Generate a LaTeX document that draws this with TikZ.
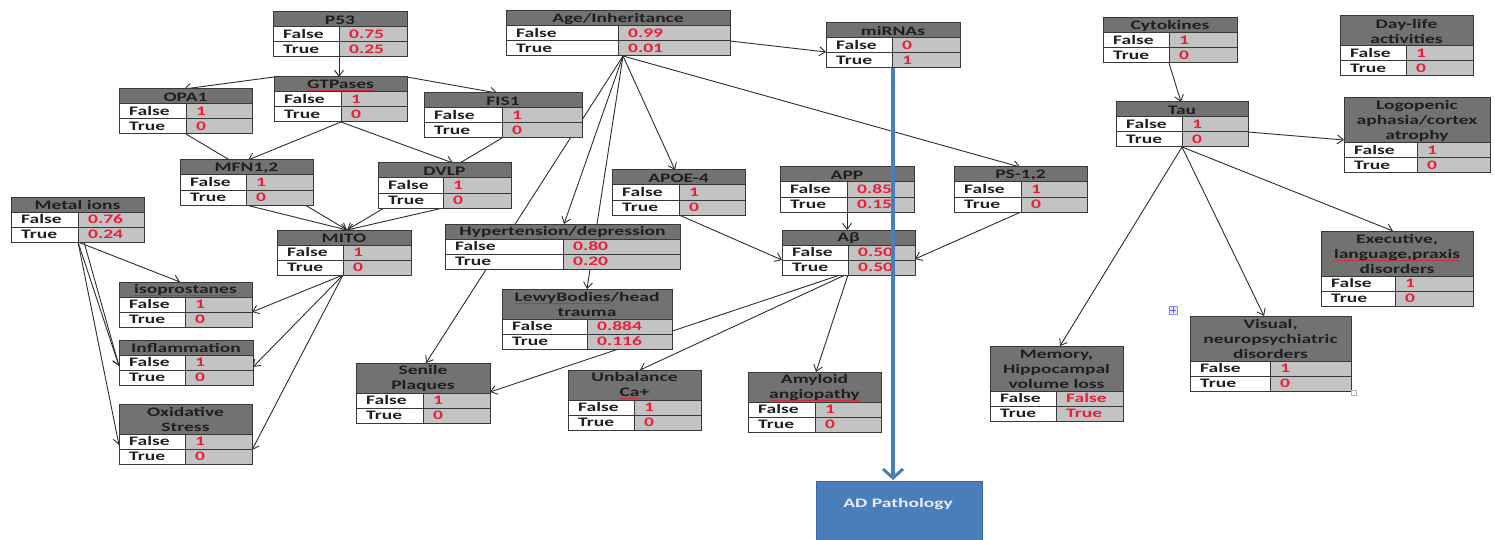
\documentclass[tikz,border=0pt]{standalone}
\usepackage{fontspec}
\setmainfont{Carlito}[FakeStretch=1.5]
\usetikzlibrary{arrows.meta,calc}

\definecolor{hdr}{HTML}{727272}
\definecolor{val}{HTML}{C3C3C3}
\definecolor{ink}{HTML}{1F1F1F}
\definecolor{num}{HTML}{E8203A}
\definecolor{rulecol}{HTML}{383838}
\definecolor{edgecol}{HTML}{2E2E2E}
\definecolor{adblue}{HTML}{4A7EBB}
\definecolor{adedge}{HTML}{3A679C}
\definecolor{squig}{HTML}{C83040}

\pgfdeclarelayer{edges}
\pgfsetlayers{edges,main}

% spell-check style thin red line under a word
\newsavebox\sqbox
\newcommand\sq[1]{\sbox\sqbox{#1}%
  \rlap{\textcolor{squig}{\rule[-2.4pt]{\wd\sqbox}{0.55pt}}}\usebox\sqbox}

\tikzset{
  hdrtext/.style={inner sep=0, align=center, text=ink,
    font=\fontsize{13}{15}\selectfont\bfseries},
  lbl/.style={inner sep=0, anchor=base west, text=ink},
  numtxt/.style={inner sep=0, anchor=base west, text=num},
  cellrule/.style={draw=rulecol, line width=1pt},
  arr/.style={draw=edgecol, line width=0.9pt, -{Straight Barb[length=6pt,width=9pt]}},
}

% probability table: name, left, top, width, split offset, header height, header, p(False), p(True)
\newcommand\cpt[9]{%
  \node[inner sep=0, outer sep=0, minimum width=#4pt, minimum height=#6pt+30pt,
        anchor=north west] (#1) at (#2,#3) {};
  \coordinate (#1-s) at (#2+#5,#3+#6+30);
  \fill[hdr] (#2,#3) rectangle (#2+#4,#3+#6);
  \fill[white] (#2,#3+#6) rectangle (#2+#5,#3+#6+30);
  \fill[val] (#2+#5,#3+#6) rectangle (#2+#4,#3+#6+30);
  \draw[cellrule] (#2,#3) rectangle (#2+#4,#3+#6+30)
    (#2,#3+#6) -- (#2+#4,#3+#6) (#2,#3+#6+15) -- (#2+#4,#3+#6+15)
    (#2+#5,#3+#6) -- (#2+#5,#3+#6+30);
  \node[hdrtext] (#1-h) at (#2+#4/2,#3+#6/2+0.5) {#7};
  \node[lbl] (#1-f) at (#2+10,#3+#6+11.8) {False};
  \node[lbl] (#1-t) at (#2+10,#3+#6+26.8) {True};
  \node[numtxt] (#1-fv) at (#2+#5+10,#3+#6+11.8) {#8};
  \node[numtxt] (#1-tv) at (#2+#5+10,#3+#6+26.8) {#9};
}

\begin{document}
\begin{tikzpicture}[x=1pt, y=-1pt, font=\fontsize{13}{15}\selectfont\bfseries]
\useasboundingbox (0,0) rectangle (1495,540);
\begin{pgfonlayer}{edges}
  \fill[white] (0,0) rectangle (1495,540);
\end{pgfonlayer}

% mitochondrial branch
\cpt{p53}{273}{12}{134}{66}{15}{P53}{0.75}{0.25}
\cpt{gtp}{274}{77}{133}{67}{15}{\sq{GTPases}}{1}{0}
\cpt{opa}{119}{89}{133}{67}{15}{OPA1}{1}{0}
\cpt{fis}{424}{93}{158}{78}{15}{FIS1}{1}{0}
\cpt{mfn}{180}{160}{133}{66}{15}{MFN1,2}{1}{0}
\cpt{dvlp}{378}{163}{133}{65}{15}{DVLP}{1}{0}
\cpt{metal}{11}{197}{133}{67}{15}{Metal ions}{0.76}{0.24}
\cpt{mito}{277}{230}{134}{66}{15}{MITO}{1}{0}
\cpt{iso}{119}{282}{133}{66}{15}{\sq{isoprostanes}}{1}{0}
\cpt{infl}{119}{340}{134}{66}{15}{Inflammation}{1}{0}
\cpt{oxi}{119}{404}{133}{66}{30}{Oxidative\\Stress}{1}{0}

% amyloid branch
\cpt{age}{506}{11}{224}{112}{15}{Age/Inheritance}{0.99}{0.01}
\cpt{mir}{826}{23}{134}{66}{15}{miRNAs}{0}{1}
\cpt{apoe}{612}{170}{133}{67}{15}{APOE-4}{1}{0}
\cpt{app}{780}{167}{134}{67}{15}{APP}{0.85}{0.15}
\cpt{ab}{782}{230}{133}{66}{15}{Aβ}{0.50}{0.50}
\cpt{hyp}{445}{224}{235}{118}{15}{Hypertension/depression}{0.80}{0.20}
\cpt{lewy}{502}{289}{170}{85}{30}{\sq{LewyBodies}/head\\trauma}{0.884}{0.116}
\cpt{senile}{356}{363}{134}{67}{30}{Senile\\Plaques}{1}{0}
\cpt{unb}{568}{370}{133}{66}{30}{Unbalance\\\sq{Ca}+}{1}{0}
\cpt{amy}{748}{372}{133}{67}{30}{Amyloid\\\sq{angiopathy}}{1}{0}
\cpt{ps}{954}{167}{133}{67}{15}{PS-1,2}{1}{0}

% tau branch
\cpt{cyt}{1103}{18}{134}{66}{15}{Cytokines}{1}{0}
\cpt{day}{1340}{16}{133}{66}{30}{Day-life\\activities}{1}{0}
\cpt{tau}{1116}{102}{132}{66}{15}{Tau}{1}{0}
\cpt{logo}{1344}{98}{146}{73}{45}{Logopenic\\aphasia/cortex\\atrophy}{1}{0}
\cpt{exe}{1321}{231}{152}{74}{45}{Executive,\\\sq{language,praxis}\\disorders}{1}{0}
\cpt{vis}{1190}{316}{161}{80}{45}{Visual,\\neuropsychiatric\\disorders}{1}{0}
\cpt{mem}{990}{346}{133}{66}{45}{Memory,\\Hippocampal\\volume loss}{False}{True}

% outcome
\node[draw=adedge, fill=adblue, line width=1.2pt, inner sep=0,
      minimum width=166pt, minimum height=70pt, anchor=north west] (ad) at (816,481) {};
\node[inner sep=0, text=white!92!blue] (adlabel) at (898,504) {AD Pathology};
\draw[adblue, line width=4pt, -{Straight Barb[length=9pt,width=20pt,line width=3pt]}]
  ($(mir.south west)+(67,0)$) -- ($(ad.north west)+(77,-1)$);

% table handles
\node[draw=blue!45, fill=blue!8, line width=0.6pt, minimum size=8pt, inner sep=0] (handle) at (1173,310) {};
\draw[blue!65, line width=0.6pt] ($(handle.west)+(1.5,0)$) -- ($(handle.east)+(-1.5,0)$)
  ($(handle.north)+(0,1.5)$) -- ($(handle.south)+(0,-1.5)$);
\node[draw=gray!60, fill=white, line width=0.5pt, minimum size=5pt, inner sep=0] (resize) at (1354,393) {};

\begin{pgfonlayer}{edges}
  % mitochondrial branch
  \draw[arr] (p53-s) -- ($(gtp.north west)+(65,0)$);
  \draw[arr] (gtp.north west) -- ($(opa.north west)+(65,0)$);
  \draw[arr] (gtp.north east) -- ($(fis.north west)+(73,0)$);
  \draw[arr] (gtp-s) -- ($(mfn.north west)+(68,0)$);
  \draw[arr] (gtp-s) -- ($(dvlp.north west)+(75,0)$);
  \coordinate (mitoin) at ($(mito.north west)+(70,0)$);
  \draw[arr] (opa-s) -- (mitoin);
  \draw[arr] (fis-s) -- (mitoin);
  \draw[arr] (mfn-s) -- (mitoin);
  \draw[arr] (dvlp-s) -- (mitoin);
  \draw[arr] (metal-s) -- ($(iso.north west)+(61,0)$);
  \draw[arr] (metal-s) -- ($(infl.north west)+(0,26)$);
  \draw[arr] ($(metal-s)+(6,0)$) -- ($(infl.north west)+(0,26)$);
  \draw[arr] (metal-s) -- ($(oxi.north west)+(0,41)$);
  \draw[arr] (mito-s) -- ($(iso.north east)+(0,30)$);
  \draw[arr] (mito-s) -- ($(infl.north east)+(0,27)$);
  \draw[arr] (mito-s) -- ($(oxi.north east)+(0,46)$);
  % amyloid branch
  \coordinate (ageout) at ($(age.south west)+(117,0)$);
  \draw[arr] ($(age.north east)+(0,30)$) -- ($(mir.north west)+(0,29)$);
  \draw[arr] (ageout) -- ($(apoe.north west)+(63,0)$);
  \draw[arr] (ageout) -- ($(hyp.north west)+(119,0)$);
  \draw[arr] (ageout) -- ($(senile.north west)+(70,0)$);
  \draw[arr] (ageout) -- ($(lewy.north west)+(85,0)$);
  \draw[arr] (ageout) -- ($(ps.north west)+(66,0)$);
  \draw[arr] (apoe-s) -- ($(ab.north west)+(0,30)$);
  \draw[arr] (app-s) -- ($(ab.north west)+(65,0)$);
  \draw[arr] (ps-s) -- ($(ab.north east)+(0,29)$);
  \draw[arr] ($(ab-s)+(-8,0)$) -- ($(senile.north east)+(0,29)$);
  \draw[arr] ($(ab-s)+(-3,0)$) -- ($(unb.north west)+(72,0)$);
  \draw[arr] (ab-s) -- ($(amy.north west)+(68,0)$);
  % tau branch
  \draw[arr] (cyt-s) -- ($(tau.north west)+(65,0)$);
  \draw[arr] ($(tau.north east)+(0,30)$) -- ($(logo.north west)+(0,42)$);
  \draw[arr] (tau-s) -- ($(mem.north west)+(70,0)$);
  \draw[arr] (tau-s) -- ($(vis.north west)+(74,0)$);
  \draw[arr] (tau-s) -- ($(exe.north west)+(72,0)$);
\end{pgfonlayer}
\end{tikzpicture}
\end{document}
